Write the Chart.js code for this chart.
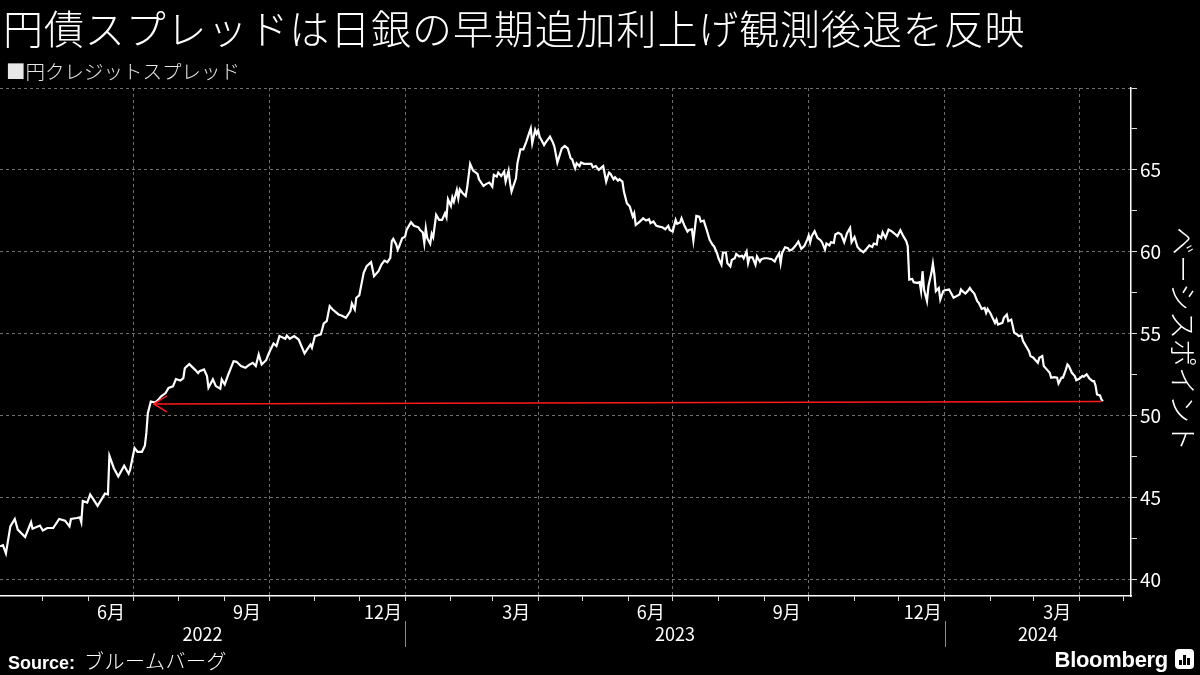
<!DOCTYPE html>
<html lang="ja">
<head>
<meta charset="utf-8">
<script src="https://cdn.jsdelivr.net/npm/chart.js@4.4.1/dist/chart.umd.min.js"></script>
<style>
  html, body { margin: 0; padding: 0; background: #000; }
  body { width: 1200px; height: 675px; position: relative; overflow: hidden; color: #fff;
         font-family: "Noto Sans CJK JP", sans-serif; }
  #chart { position: absolute; left: 0; top: 0; }
  .title { position: absolute; left: 3px; top: 2px; font-size: 40px; font-weight: 300;
           letter-spacing: 0.9px; line-height: 50px; white-space: nowrap; }
  .legend { position: absolute; left: 6px; top: 58px; font-size: 19.5px; font-weight: 300;
            line-height: 26px; color: #e8e8e8; white-space: nowrap; }
  .source { position: absolute; left: 8px; top: 647px; line-height: 28px; white-space: nowrap; }
  .source b { font-family: "Liberation Sans", sans-serif; font-weight: bold; font-size: 18px; margin-right: 9px; }
  .source span { font-weight: 300; font-size: 20px; letter-spacing: 0.5px; }
  .logo { position: absolute; right: 32px; top: 645px; font-family: "Liberation Sans", sans-serif;
          font-weight: bold; font-size: 22px; line-height: 30px; letter-spacing: -0.3px; }
  .icon { position: absolute; right: 6px; top: 649px; width: 19px; height: 20px; background: #fff;
          border-radius: 4px; }
  .icon i { position: absolute; bottom: 4px; width: 3px; background: #000; }
</style>
</head>
<body>
<canvas id="chart" width="1200" height="675"></canvas>
<div class="title">円債スプレッドは日銀の早期追加利上げ観測後退を反映</div>
<div class="legend">■円クレジットスプレッド</div>
<div class="source"><b>Source:</b><span>ブルームバーグ</span></div>
<div class="logo">Bloomberg</div>
<div class="icon"><i style="left:4px;height:5px"></i><i style="left:8px;height:10px"></i><i style="left:12px;height:7px"></i></div>
<script>
// days counted from startDate, values in basis points
const startDate = '2022-04-01';
const axisDays = [1, 766];
const yRange = [39, 70];
const yTicks = [40, 42.5, 45, 47.5, 50, 52.5, 55, 57.5, 60, 62.5, 65, 67.5, 70];
const monthNames = ['1月', '2月', '3月', '4月', '5月', '6月', '7月', '8月', '9月', '10月', '11月', '12月'];
const yearLabels = ['2022', '2023', '2024'];
const unitLabel = 'ベーシスポイント';

const days = [
  // Apr - Aug 2022
  1, 3, 5, 8, 11, 13, 18, 22, 23, 28, 30, 33, 37, 41, 45, 48, 49, 53, 55, 56,
  57, 60, 62, 67, 72, 74, 75, 78, 81, 85, 88, 89, 92, 94, 97, 99, 100, 101, 103, 106,
  108, 110, 113, 115, 118, 120, 123, 125, 126, 129, 133, 135,
  // Aug - Dec 2022
  136, 139, 141, 142, 145, 147, 150, 151, 153, 155, 159, 161, 164, 167, 170, 172, 174, 176, 178, 181,
  183, 186, 188, 190, 194, 195, 197, 200, 203, 207, 211, 212, 214, 218, 220, 222, 224, 226, 230, 232,
  235, 238, 239, 241, 242, 244, 247, 249, 252, 254, 257, 259, 261, 263, 265, 266, 267, 269, 270,
  // Dec 2022 - May 2023
  271, 273, 275, 276, 279, 281, 284, 285, 287, 288, 289, 290, 292, 293, 294, 296, 298, 300, 302, 303,
  304, 306, 307, 308, 310, 311, 312, 314, 316, 317, 319, 321, 324, 325, 328, 330, 332, 334, 335, 337,
  338, 340, 342, 343, 345, 346, 347, 350, 351, 353, 355, 357, 359, 360, 361, 363, 364, 365, 366, 369,
  370, 373, 375, 376, 378, 381, 383, 385, 387, 388, 390, 391, 393, 394, 396, 399, 401, 402, 404, 406,
  // May - Sep 2023
  409, 411, 412, 413, 414, 416, 417, 419, 420, 422, 423, 425, 427, 429, 430, 431, 433, 435, 436, 438,
  440, 441, 443, 445, 447, 449, 451, 453, 454, 456, 458, 459, 461, 462, 464, 466, 467, 469, 470, 472,
  474, 475, 477, 479, 481, 483, 484, 486, 487, 489, 490, 492, 493, 495, 496, 498, 499, 501, 503, 504,
  506, 507, 508, 510, 512, 513, 515, 516, 518, 520, 523, 525, 526, 528, 529, 530, 532, 534, 535, 537,
  539, 541,
  // Sep 2023 - Feb 2024
  543, 545, 547, 548, 549, 550, 552, 554, 556, 557, 559, 560, 562, 563, 565, 566, 568, 570, 572, 574,
  576, 577, 579, 581, 583, 585, 587, 589, 591, 592, 594, 595, 597, 598, 600, 602, 604, 606, 608, 610,
  612, 614, 615, 616, 618, 619, 621, 623, 624, 625, 626, 628, 629, 631, 632, 633, 634, 636, 637, 639,
  640, 643, 644, 646, 648, 650, 651, 652, 654, 656, 657, 658, 660, 662, 663, 665, 667, 668, 669, 671,
  672, 674, 675, 676,
  // Feb - Apr 2024
  679, 680, 682, 683, 685, 686, 687, 689, 690, 692, 693, 695, 697, 698, 700, 701, 703, 704, 706, 707,
  709, 711, 712, 714, 716, 717, 719, 720, 722, 723, 724, 726, 728, 729, 731, 733, 734, 736, 738, 740,
  741, 742, 743, 745, 746, 747
];

const spread = [
  42.03, 42.1, 41.6, 43.25, 43.7, 43.05, 42.6, 43.5, 43.1, 43.3, 43.0, 43.15, 43.15, 43.7, 43.6, 43.25, 43.7, 43.76, 43.8, 43.5,
  44.8, 44.7, 45.2, 44.5, 45.25, 45.2, 47.56, 46.8, 46.3, 46.95, 46.46, 46.7, 48.03, 47.8, 47.8, 48.17, 48.95, 50.16, 50.87, 50.8,
  50.97, 51.18, 51.38, 51.7, 51.79, 52.24, 52.15, 52.3, 52.9, 53.15, 52.8, 52.6,

  52.72, 52.83, 52.42, 51.71, 52.22, 51.81, 51.65, 52.22, 51.91, 52.42, 53.33, 53.29, 53.03, 52.93, 53.13, 53.23, 53.03, 53.74, 53.13, 53.39,
  53.84, 54.41, 54.25, 54.86, 54.7, 54.9, 54.7, 54.86, 54.65, 53.8, 54.35, 54.15, 54.86, 54.96, 55.63, 55.77, 56.69, 56.48, 56.18, 56.12,
  55.98, 56.38, 56.85, 56.48, 57.2, 57.34, 58.72, 59.13, 59.37, 58.52, 58.82, 59.23, 59.47, 59.37, 59.63, 60.65, 60.79, 60.45, 60.14,

  60.33, 60.83, 60.93, 61.34, 61.81, 61.59, 61.5, 61.34, 61.18, 60.53, 61.44, 60.83, 60.49, 61.1, 60.89, 62.26, 61.95, 61.95, 62.36, 62.11,
  63.21, 62.8, 63.33, 63.07, 63.78, 63.27, 63.82, 63.58, 63.41, 63.94, 65.37, 64.96, 64.76, 64.43, 64.02, 64.15, 64.23, 63.98, 64.7, 64.59,
  64.84, 64.63, 64.9, 64.29, 64.96, 64.19, 63.68, 64.49, 65.41, 66.26, 66.26, 66.73, 67.28, 67.54, 66.63, 67.44, 67.2, 67.4, 67.03, 66.52,
  66.67, 67.03, 66.67, 66.42, 65.45, 66.32, 66.46, 66.32, 65.71, 65.65, 65.1, 65.41, 65.24, 65.45, 65.37, 65.37, 65.37, 65.16, 65.24, 65.0,

  65.24, 64.29, 64.59, 64.84, 64.76, 64.43, 64.55, 64.35, 64.43, 64.29, 63.68, 62.97, 62.76, 62.15, 62.36, 61.65, 61.79, 61.95, 62.05, 61.91,
  61.99, 61.75, 61.85, 61.59, 61.54, 61.5, 61.38, 61.59, 61.34, 61.24, 61.95, 61.71, 61.79, 62.05, 61.59, 61.24, 61.34, 61.38, 60.69, 62.2,
  62.15, 61.85, 61.91, 61.34, 60.73, 60.43, 60.33, 59.92, 59.61, 59.21, 59.96, 59.96, 59.31, 59.11, 59.51, 59.61, 59.88, 59.72, 59.76, 59.61,
  60.02, 59.31, 59.67, 59.67, 59.21, 59.72, 59.41, 59.55, 59.61, 59.61, 59.55, 59.41, 59.61, 59.92, 59.31, 59.92, 60.28, 60.22, 60.08, 60.16,
  60.37, 60.63,

  60.18, 60.35, 60.75, 61.0, 60.59, 60.96, 61.26, 60.85, 60.71, 60.59, 60.14, 60.51, 60.39, 60.59, 60.55, 61.06, 61.16, 61.06, 60.59, 61.16,
  61.46, 60.59, 60.91, 60.3, 60.1, 59.98, 60.18, 60.39, 60.3, 60.51, 60.45, 61.0, 60.85, 61.2, 60.85, 61.36, 61.26, 61.12, 60.96, 61.32,
  60.96, 60.65, 60.35, 58.31, 58.35, 58.15, 58.11, 58.15, 57.6, 58.82, 57.7, 56.99, 57.91, 58.72, 59.29, 58.62, 57.6, 57.8, 57.09, 57.6,
  57.66, 57.7, 57.54, 57.2, 57.3, 57.4, 57.7, 57.6, 57.46, 57.66, 57.8, 57.66, 57.46, 56.99, 56.89, 56.52, 56.58, 56.28, 56.52, 56.24,
  56.04, 55.67, 55.87, 55.57,

  55.67, 55.98, 56.18, 55.77, 55.87, 55.47, 55.06, 54.96, 54.86, 54.9, 54.55, 54.25, 53.94, 53.64, 53.54, 53.43, 53.23, 53.54, 53.64, 53.03,
  52.83, 52.62, 52.32, 52.36, 52.32, 51.97, 52.32, 52.32, 52.83, 53.13, 53.03, 52.62, 52.42, 52.17, 52.26, 52.42, 52.38, 52.52, 52.26, 52.11,
  52.11, 51.85, 51.3, 51.24, 51.0, 50.89
];

// red arrow: back from the latest level to where the spread last stood there
const arrowDays = [105, 746];
const arrowLevels = [50.72, 50.87];

const FONT = '"Noto Sans CJK JP", sans-serif';
const DAY = 86400000;
const t0 = Date.parse(startDate + 'T00:00:00Z');
const dayOf = (y, m) => Math.round((Date.UTC(y, m, 1) - t0) / DAY);

// first day of every month inside the axis
const monthTicks = [];
for (let y = 2022; y <= 2024; y++) {
  for (let m = 0; m < 12; m++) {
    const d = dayOf(y, m);
    if (d > axisDays[0] && d < axisDays[1]) monthTicks.push({ value: d, month: m });
  }
}
const monthAt = {};
monthTicks.forEach(t => { monthAt[t.value] = t.month; });
const isQuarter = v => monthAt[v] !== undefined && monthAt[v] % 3 === 0;
const yearStarts = [dayOf(2023, 0), dayOf(2024, 0)];

const yearRow = {
  id: 'yearRow',
  afterDraw(chart) {
    const xs = chart.scales.x;
    const c = chart.ctx;
    const bounds = [xs.min, ...yearStarts, xs.max];
    c.save();
    c.fillStyle = '#fff';
    c.font = '18px ' + FONT;
    c.textAlign = 'center';
    c.textBaseline = 'middle';
    yearLabels.forEach((lab, i) => {
      const a = xs.getPixelForValue(bounds[i]);
      const b = xs.getPixelForValue(bounds[i + 1]);
      c.fillText(lab, (a + b) / 2, xs.top + 38);
    });
    c.strokeStyle = '#8a8a8a';
    c.lineWidth = 1;
    yearStarts.forEach(d => {
      const px = Math.round(xs.getPixelForValue(d)) + 0.5;
      c.beginPath();
      c.moveTo(px, xs.top + 25);
      c.lineTo(px, xs.top + 51);
      c.stroke();
    });
    c.restore();
  }
};

const unitTitle = {
  id: 'unitTitle',
  afterDraw(chart) {
    const ys = chart.scales.y;
    const c = chart.ctx;
    c.save();
    c.translate(1183, (ys.top + ys.bottom) / 2 - 3);
    c.rotate(Math.PI / 2);
    c.fillStyle = '#fff';
    c.font = '300 28px ' + FONT;
    c.textAlign = 'center';
    c.textBaseline = 'middle';
    c.fillText(unitLabel, 0, 0);
    c.restore();
  }
};

const arrowHead = {
  id: 'arrowHead',
  afterDatasetsDraw(chart) {
    const p = chart.getDatasetMeta(0).data[0];
    const c = chart.ctx;
    c.save();
    c.strokeStyle = '#ff1a1a';
    c.lineWidth = 1.5;
    c.beginPath();
    c.moveTo(p.x + 13, p.y - 8);
    c.lineTo(p.x, p.y);
    c.lineTo(p.x + 13, p.y + 8);
    c.stroke();
    c.restore();
  }
};

const ctx = document.getElementById('chart').getContext('2d');
new Chart(ctx, {
  type: 'line',
  data: {
    datasets: [
      {
        data: arrowDays.map((d, i) => ({ x: d, y: arrowLevels[i] })),
        borderColor: '#ff1a1a',
        borderWidth: 1.5,
        pointRadius: 0,
        order: 0,
      },
      {
        data: days.map((d, i) => ({ x: d, y: spread[i] })),
        borderColor: '#ffffff',
        borderWidth: 2.2,
        pointRadius: 0,
        tension: 0,
        order: 1,
      },
    ],
  },
  options: {
    responsive: false,
    animation: false,
    layout: { padding: { top: 88, left: 0, right: 0, bottom: 0 } },
    plugins: { legend: { display: false }, tooltip: { enabled: false } },
    scales: {
      x: {
        type: 'linear',
        min: axisDays[0],
        max: axisDays[1],
        afterBuildTicks: (s) => { s.ticks = monthTicks.map(t => ({ value: t.value })); },
        afterFit: (s) => { s.height = 79; },
        grid: {
          color: (c) => isQuarter(c.tick.value) ? '#6e6e6e' : 'rgba(0,0,0,0)',
          tickColor: '#dddddd',
          tickLength: 5,
        },
        border: { color: '#ffffff', width: 1.5, dash: [3, 3] },
        ticks: {
          autoSkip: false,
          maxRotation: 0,
          minRotation: 0,
          labelOffset: -22,
          padding: 0,
          color: '#ffffff',
          font: { family: FONT, size: 18 },
          callback: (v) => isQuarter(v) ? monthNames[(monthAt[v] + 11) % 12] : '',
        },
      },
      y: {
        position: 'right',
        min: yRange[0],
        max: yRange[1],
        afterBuildTicks: (s) => { s.ticks = yTicks.map(v => ({ value: v })); },
        afterFit: (s) => { s.width = 69; },
        grid: {
          color: (c) => c.tick.value % 5 === 0 ? '#6e6e6e' : 'rgba(0,0,0,0)',
          tickColor: '#dddddd',
          tickLength: 6,
        },
        border: { color: '#ffffff', width: 1.5, dash: [3, 3] },
        ticks: {
          padding: 3,
          color: '#ffffff',
          font: { family: FONT, size: 19 },
          callback: (v) => (v % 5 === 0 && v < 70) ? String(v) : '',
        },
      },
    },
  },
  plugins: [yearRow, unitTitle, arrowHead],
});
</script>
</body>
</html>
